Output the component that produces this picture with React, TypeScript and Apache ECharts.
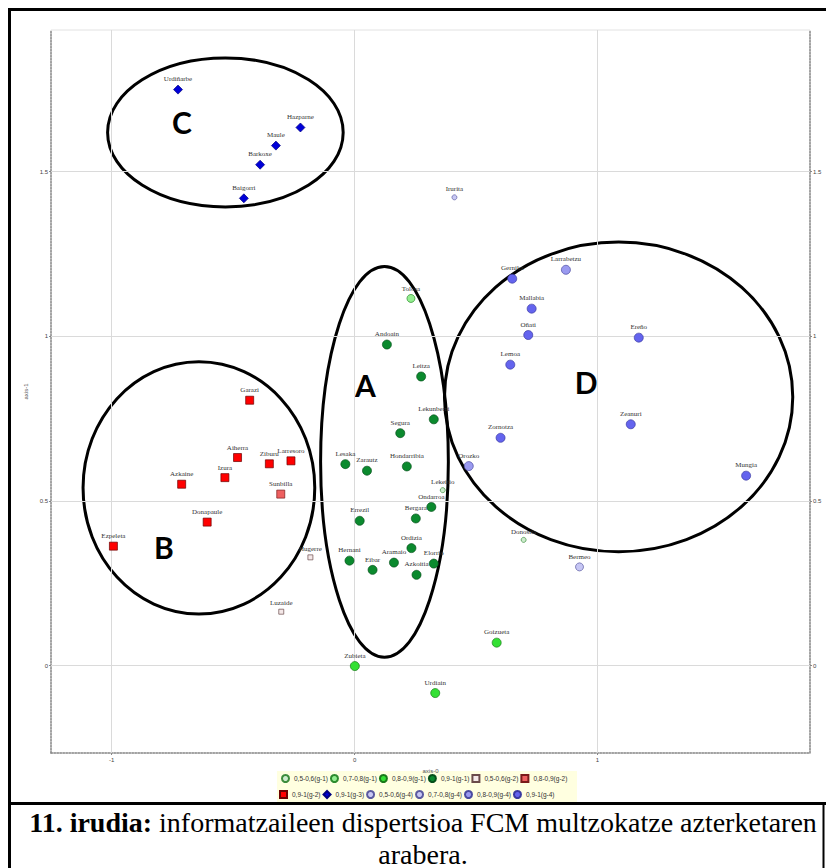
import { useEffect, useRef } from "react";
import * as echarts from "echarts";

// ---- axis ticks ----
const xTicks = [-1, 0, 1];
const yTicks = [0, 0.5, 1, 1.5];

// ---- points: [name, axis-0, axis-1] ----
const g1Low: [string, number, number][] = [
  ["Lekeitio", 0.363, 0.533],
  ["Donostia", 0.696, 0.382],
];
const g1Mid: [string, number, number][] = [["Tolosa", 0.232, 1.115]];
const g1Upper: [string, number, number][] = [
  ["Goizueta", 0.585, 0.07],
  ["Zubieta", 0.001, -0.001],
  ["Urdiain", 0.332, -0.083],
];
const g1High: [string, number, number][] = [
  ["Andoain", 0.133, 0.975],
  ["Leitza", 0.274, 0.878],
  ["Lekunberri", 0.326, 0.748],
  ["Segura", 0.188, 0.706],
  ["Lesaka", -0.038, 0.612],
  ["Zarautz", 0.051, 0.592],
  ["Hondarribia", 0.215, 0.605],
  ["Ondarroa", 0.316, 0.482],
  ["Bergara", 0.252, 0.447],
  ["Errezil", 0.021, 0.44],
  ["Ordizia", 0.234, 0.357],
  ["Hernani", -0.021, 0.319],
  ["Aramaio", 0.162, 0.313],
  ["Eibar", 0.074, 0.291],
  ["Elorrio", 0.326, 0.31],
  ["Azkoitia", 0.255, 0.276],
];
const g2Low: [string, number, number][] = [
  ["Hugerre", -0.182, 0.329],
  ["Luzaide", -0.302, 0.164],
];
const g2Upper: [string, number, number][] = [["Sunbilla", -0.304, 0.521]];
const g2High: [string, number, number][] = [
  ["Garazi", -0.432, 0.806],
  ["Aiherra", -0.482, 0.632],
  ["Ziburu", -0.351, 0.613],
  ["Larresoro", -0.262, 0.622],
  ["Izura", -0.534, 0.571],
  ["Azkaine", -0.712, 0.551],
  ["Donapaule", -0.607, 0.436],
  ["Ezpeleta", -0.993, 0.363],
];
const g3High: [string, number, number][] = [
  ["Urdiñarbe", -0.727, 1.749],
  ["Hazparne", -0.223, 1.634],
  ["Maule", -0.324, 1.579],
  ["Barkoxe", -0.389, 1.521],
  ["Baigorri", -0.456, 1.419],
];
const g4Low: [string, number, number][] = [["Irurita", 0.411, 1.422]];
const g4Mid: [string, number, number][] = [["Bermeo", 0.926, 0.3]];
const g4Upper: [string, number, number][] = [
  ["Larrabetzu", 0.87, 1.202],
  ["Orozko", 0.47, 0.606],
];
const g4High: [string, number, number][] = [
  ["Gernika", 0.649, 1.175],
  ["Mallabia", 0.729, 1.084],
  ["Oñati", 0.715, 1.004],
  ["Ereño", 1.17, 0.996],
  ["Lemoa", 0.641, 0.914],
  ["Zeanuri", 1.137, 0.733],
  ["Zornotza", 0.601, 0.692],
  ["Mungia", 1.612, 0.577],
];

// ---- cluster ellipses: [centre x, centre y, radius x, radius y] in data units ----
const clusterEllipses = [
  [0.123, 0.619, 0.263, 0.593],
  [-0.641, 0.54, 0.477, 0.383],
  [-0.532, 1.619, 0.485, 0.226],
  [1.087, 0.816, 0.717, 0.47],
];
const clusterLetters: [string, number, number][] = [
  ["A", 0.045, 0.852],
  ["B", -0.785, 0.36],
  ["C", -0.711, 1.652],
  ["D", 0.953, 0.862],
];

const legendRow1 = ["0,5-0,6(g-1)", "0,7-0,8(g-1)", "0,8-0,9(g-1)", "0,9-1(g-1)", "0,5-0,6(g-2)", "0,8-0,9(g-2)"];
const legendRow2 = ["0,9-1(g-2)", "0,9-1(g-3)", "0,5-0,6(g-4)", "0,7-0,8(g-4)", "0,8-0,9(g-4)", "0,9-1(g-4)"];

const captionBold = "11. irudia:";
const captionRest = " informatzaileen dispertsioa FCM multzokatze azterketaren";
const captionLine2 = "arabera.";

type Spec = { name: string; data: [string, number, number][]; symbol: string; size: number; fill: string; border: string };

const specs: Spec[] = [
  { name: legendRow1[0], data: g1Low, symbol: "circle", size: 5, fill: "#cdeccd", border: "#3c8c3c" },
  { name: legendRow1[1], data: g1Mid, symbol: "circle", size: 8, fill: "#94ee90", border: "#2e8b2e" },
  { name: legendRow1[2], data: g1Upper, symbol: "circle", size: 9, fill: "#33e033", border: "#1a7a1a" },
  { name: legendRow1[3], data: g1High, symbol: "circle", size: 9, fill: "#0b8a2e", border: "#05501a" },
  { name: legendRow1[4], data: g2Low, symbol: "rect", size: 5, fill: "#f4e8e8", border: "#6a4a4a" },
  { name: legendRow1[5], data: g2Upper, symbol: "rect", size: 8, fill: "#ee6060", border: "#7a1a1a" },
  { name: legendRow2[0], data: g2High, symbol: "rect", size: 8, fill: "#ff0000", border: "#6a0000" },
  { name: legendRow2[1], data: g3High, symbol: "diamond", size: 9, fill: "#0000d8", border: "#000080" },
  { name: legendRow2[2], data: g4Low, symbol: "circle", size: 5, fill: "#c8c8f4", border: "#5a5aa0" },
  { name: legendRow2[3], data: g4Mid, symbol: "circle", size: 8, fill: "#c6c6f4", border: "#5a5aa0" },
  { name: legendRow2[4], data: g4Upper, symbol: "circle", size: 9, fill: "#9a9af0", border: "#4a4aa0" },
  { name: legendRow2[5], data: g4High, symbol: "circle", size: 9, fill: "#6464ee", border: "#3a3aa0" },
];

export default function App() {
  const ref = useRef<HTMLDivElement>(null);
  useEffect(() => {
    if (!ref.current) return;
    const chart = echarts.init(ref.current, null, { renderer: "svg" });

    const tickLabel = { fontSize: 6, color: "#444", fontFamily: "Liberation Sans" };
    const axisLine = { show: true, onZero: false, lineStyle: { color: "#888", type: "dotted" as const, width: 1.5 } };

    const scatterSeries = specs.map((s) => ({
      type: "scatter",
      name: s.name,
      symbol: s.symbol,
      symbolSize: s.size,
      z: 5,
      itemStyle: { color: s.fill, borderColor: s.border, borderWidth: 0.7, opacity: 1 },
      label: {
        show: true,
        position: "top",
        distance: 2,
        formatter: "{b}",
        fontSize: 7,
        fontFamily: "Liberation Serif",
        color: "#333333",
        textBorderWidth: 0,
        textBorderColor: "transparent",
        textShadowBlur: 0,
      },
      labelLayout: { hideOverlap: false },
      data: s.data.map((d) => ({ name: d[0], value: [d[1], d[2]] })),
    }));

    const legendCommon = {
      itemWidth: 7,
      itemHeight: 7,
      itemGap: 2,
      padding: 0,
      selectedMode: false,
      orient: "horizontal",
      textStyle: { fontSize: 6.5, color: "#333", fontFamily: "Liberation Sans" },
    };

    chart.setOption({
      animation: false,
      backgroundColor: "#fff",
      grid: { left: 51, right: 16, top: 30, bottom: 115, show: true, borderColor: "#e2e2e2", borderWidth: 1 },
      xAxis: {
        type: "value",
        min: -1.25,
        max: 1.875,
        name: "axis-0",
        nameLocation: "middle",
        nameGap: 13,
        nameTextStyle: { fontSize: 6, color: "#555", fontFamily: "Liberation Sans" },
        axisLine,
        axisTick: { show: true, customValues: xTicks, length: 2, lineStyle: { color: "#888" } },
        axisLabel: { ...tickLabel, customValues: xTicks, margin: 4, formatter: (v: number) => String(v) },
        splitLine: { show: false },
      },
      yAxis: [
        {
          type: "value",
          min: -0.265,
          max: 1.93,
          name: "axis-1",
          nameLocation: "middle",
          nameGap: 15,
          nameRotate: 90,
          nameTextStyle: { fontSize: 6, color: "#555", fontFamily: "Liberation Sans" },
          axisLine,
          axisTick: { show: true, customValues: yTicks, length: 2, lineStyle: { color: "#888" } },
          axisLabel: { ...tickLabel, customValues: yTicks, margin: 3, formatter: (v: number) => String(v) },
          splitLine: { show: false },
        },
        {
          type: "value",
          position: "right",
          min: -0.265,
          max: 1.93,
          axisLine,
          axisTick: { show: true, customValues: yTicks, length: 2, lineStyle: { color: "#888" } },
          axisLabel: { ...tickLabel, customValues: yTicks, margin: 3, formatter: (v: number) => String(v) },
          splitLine: { show: false },
        },
      ],
      legend: [
        { ...legendCommon, data: legendRow1, left: 281, top: 774 },
        { ...legendCommon, data: legendRow2, left: 279, top: 790 },
      ],
      graphic: [
        { type: "rect", z: -1, shape: { x: 277, y: 771, width: 300, height: 31 }, style: { fill: "#ffffe0" } },
        { type: "line", shape: { x1: 8, y1: 9.5, x2: 826, y2: 9.5 }, style: { stroke: "#000", lineWidth: 3 } },
        { type: "line", shape: { x1: 9.5, y1: 8, x2: 9.5, y2: 868 }, style: { stroke: "#000", lineWidth: 3 } },
        { type: "line", shape: { x1: 8, y1: 803.5, x2: 826, y2: 803.5 }, style: { stroke: "#000", lineWidth: 3 } },
        { type: "line", shape: { x1: 823.5, y1: 803, x2: 823.5, y2: 868 }, style: { stroke: "#000", lineWidth: 2 } },
        {
          type: "text",
          x: 423,
          y: 806,
          style: {
            text: `{b|${captionBold}}{n|${captionRest}}\n{n|${captionLine2}}`,
            align: "center",
            verticalAlign: "top",
            rich: {
              b: { fontWeight: "bold", fontSize: 28, fontFamily: "Liberation Serif", fill: "#000", lineHeight: 32 },
              n: { fontSize: 28, fontFamily: "Liberation Serif", fill: "#000", lineHeight: 32 },
            },
          },
        },
      ],
      series: [
        {
          type: "scatter",
          name: "gridlines",
          data: [],
          z: 1,
          silent: true,
          markLine: {
            silent: true,
            symbol: ["none", "none"],
            label: { show: false },
            lineStyle: { color: "#dadada", width: 1, type: "solid" },
            data: [...xTicks.map((v) => ({ xAxis: v })), ...yTicks.map((v) => ({ yAxis: v }))],
          },
        },
        {
          type: "custom",
          name: "ellipses",
          z: 4,
          silent: true,
          data: clusterEllipses,
          renderItem: (_p: any, api: any) => {
            const c = api.coord([api.value(0), api.value(1)]);
            const s = api.size([api.value(2), api.value(3)]);
            return {
              type: "ellipse",
              shape: { cx: c[0], cy: c[1], rx: s[0], ry: s[1] },
              style: { fill: "none", stroke: "#000", lineWidth: 3 },
            };
          },
        },
        {
          type: "custom",
          name: "letters",
          z: 4,
          silent: true,
          data: clusterLetters.map((l) => [l[1], l[2]]),
          renderItem: (p: any, api: any) => {
            const c = api.coord([api.value(0), api.value(1)]);
            return {
              type: "text",
              x: c[0],
              y: c[1],
              style: {
                text: clusterLetters[p.dataIndex][0],
                fontSize: 30,
                fontWeight: "bold",
                fontFamily: "Lato",
                fill: "#000",
                align: "center",
                verticalAlign: "middle",
              },
            };
          },
        },
        ...scatterSeries,
      ],
    });
    return () => chart.dispose();
  }, []);
  return <div ref={ref} style={{ position: "absolute", left: 0, top: 0, width: 826, height: 868 }} />;
}
